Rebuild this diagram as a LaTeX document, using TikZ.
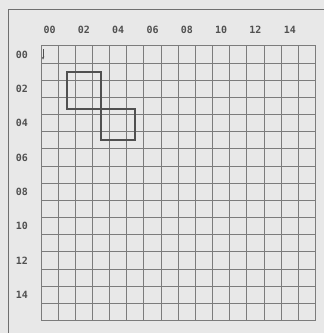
\documentclass[tikz,border=0pt]{standalone}
\usepackage{fontspec}
\setmonofont{DejaVu Sans Mono}
\usetikzlibrary{arrows.meta}
\definecolor{paper}{HTML}{E8E8E8}
\definecolor{gridline}{HTML}{7C7C7C}
\definecolor{ink}{HTML}{505050}
\begin{document}
\begin{tikzpicture}[x=5.145mm,y=-5.145mm,font=\ttfamily\bfseries\fontsize{8.5}{9}\selectfont,
  lbl/.style={text=ink,inner sep=0pt},
  cell/.style={draw=gridline,line width=0.85pt},
  blk/.style={draw=ink,line width=1.8pt,line join=miter},
  frame/.style={draw=gridline!90!black,line width=0.9pt}]
\fill[paper] (-2.39,-2.68) rectangle (16.50,16.73);
\useasboundingbox (-2.39,-2.68) rectangle (16.50,16.73);
% outer frame (top and left only)
\draw[frame] (16.50,-2.10) -- (-1.92,-2.10) -- (-1.92,16.73);
% grid
\foreach \i in {0,...,16}{
  \draw[cell] (\i,0) -- (\i,16);
  \draw[cell] (0,\i) -- (16,\i);
}
% labels
\foreach \n/\t in {0/00,2/02,4/04,6/06,8/08,10/10,12/12,14/14}{
  \node[lbl] (c\t) at (\n+0.5,-0.93) {\t};
  \node[lbl] (r\t) at (-1.11,\n+0.5) {\t};
}
% cursor mark
\draw[ink,line width=0.6pt,-{Stealth[length=2.5pt,width=2pt]}] (0.12,0.2) -- (0.12,0.8);
% blocks
\draw[blk] (1.5,1.5) rectangle (3.5,3.65) (3.5,3.65) rectangle (5.5,5.5);
\end{tikzpicture}
\end{document}
